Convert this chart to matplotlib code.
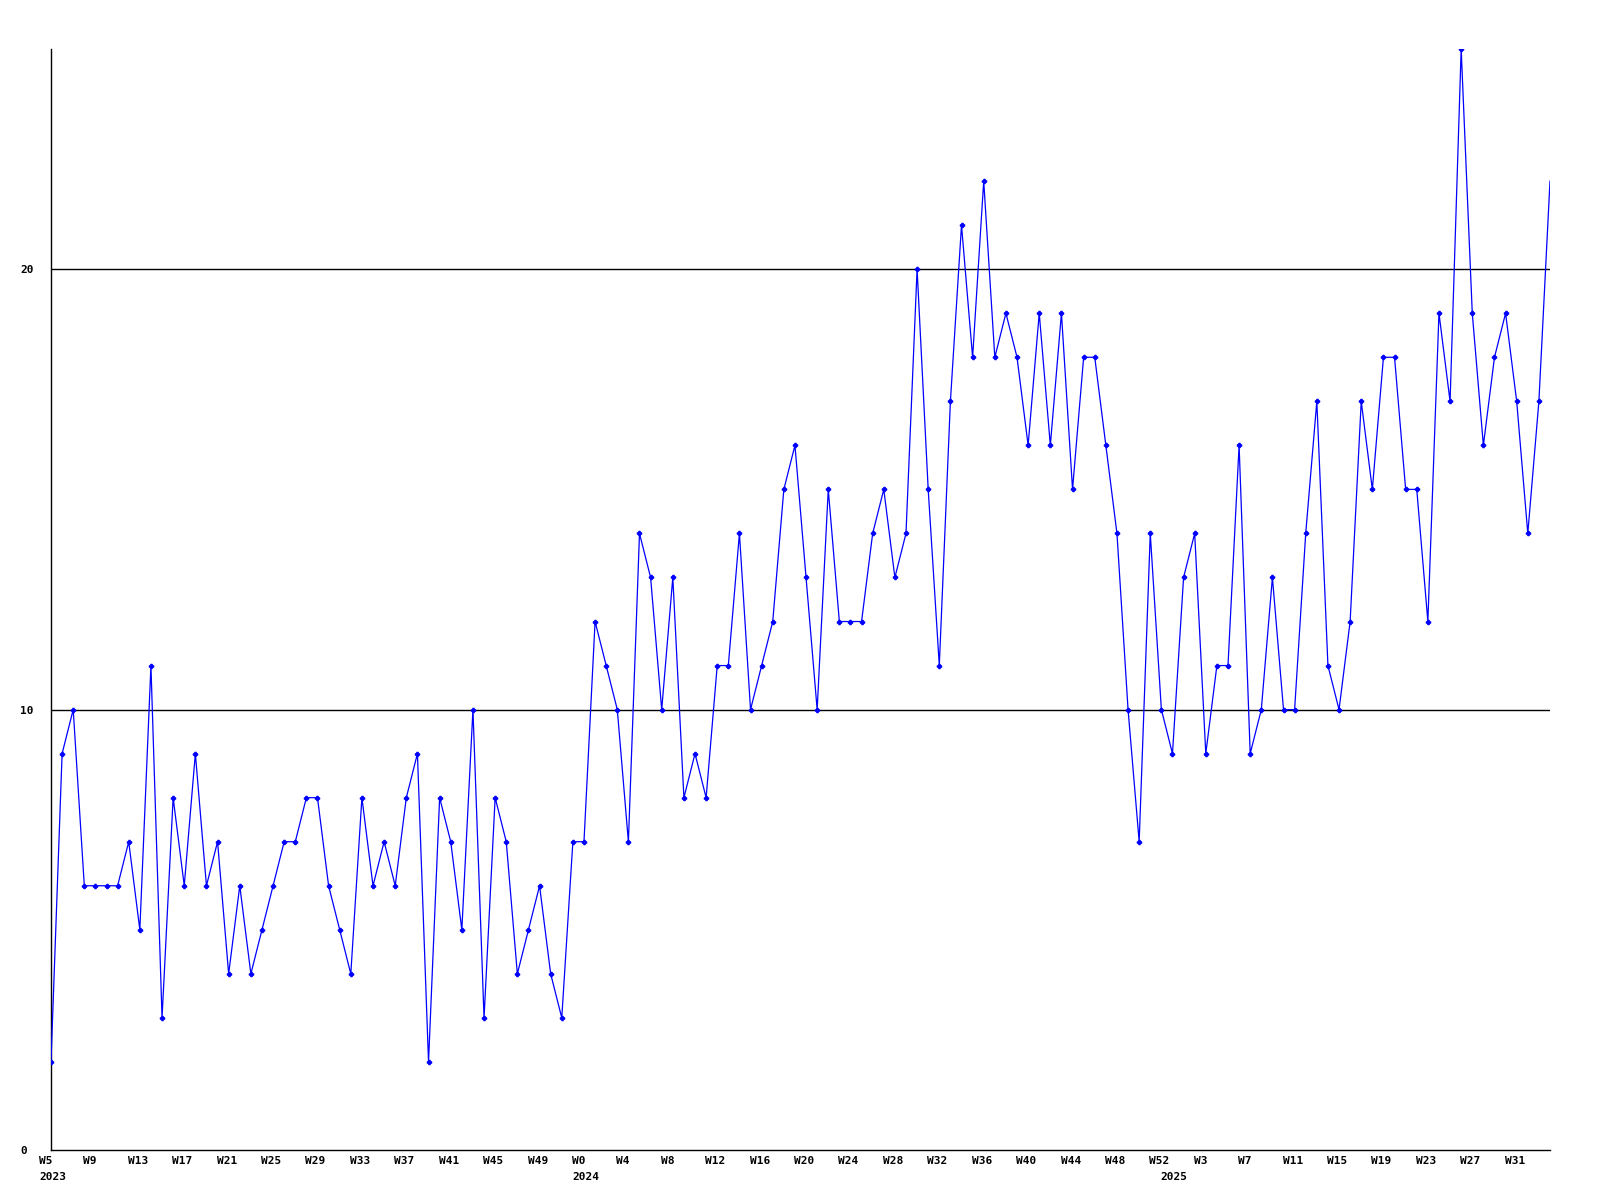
import matplotlib
matplotlib.use("Agg")
import matplotlib.pyplot as plt
import matplotlib.transforms as mtransforms

# Weekly values: 2023 W5..W52, 2024 W0..W52, 2025 W0..W34
values_2023 = [2, 9, 10, 6, 6, 6, 6, 7, 5, 11, 3, 8, 6, 9, 6, 7, 4, 6, 4, 5,
               6, 7, 7, 8, 8, 6, 5, 4, 8, 6, 7, 6, 8, 9, 2, 8, 7, 5, 10, 3,
               8, 7, 4, 5, 6, 4, 3, 7]
values_2024 = [7, 12, 11, 10, 7, 14, 13, 10, 13, 8, 9, 8, 11, 11, 14, 10, 11, 12,
               15, 16, 13, 10, 15, 12, 12, 12, 14, 15, 13, 14, 20, 15, 11, 17, 21,
               18, 22, 18, 19, 18, 16, 19, 16, 19, 15, 18, 18, 16, 14, 10, 7, 14, 10]
values_2025 = [9, 13, 14, 9, 11, 11, 16, 9, 10, 13, 10, 10, 14, 17, 11, 10, 12,
               17, 15, 18, 18, 15, 15, 12, 19, 17, 25, 19, 16, 18, 19, 17, 14, 17, 22]
weeks_2023 = list(range(5, 53))
weeks_2024 = list(range(0, 53))
weeks_2025 = list(range(0, 35))
years = ["2023", "2024", "2025"]
y_ticks = [0, 10, 20]

values = values_2023 + values_2024 + values_2025
week_labels = ["W%d" % w for w in weeks_2023 + weeks_2024 + weeks_2025]
x = list(range(len(values)))
year_starts = [0, len(values_2023), len(values_2023) + len(values_2024)]

fig = plt.figure(figsize=(16, 12), dpi=100)
ax = fig.add_axes([51 / 1600, 1 - 1150 / 1200, (1550 - 51) / 1600, (1150 - 49) / 1200])

for yv in y_ticks[1:]:
    ax.axhline(yv, color="black", linewidth=1.0, zorder=1)

ax.plot(x, values, color="#0000FF", linewidth=0.9, marker="P", markersize=3.0,
        markevery=list(range(len(values) - 1)), zorder=3)

ax.set_xlim(0, len(values) - 1)
ax.set_ylim(0, max(values))

for side in ["top", "right"]:
    ax.spines[side].set_visible(False)
for side in ["left", "bottom"]:
    ax.spines[side].set_linewidth(1.0)
    ax.spines[side].set_color("black")

font = dict(family="DejaVu Sans Mono", weight="bold", size=8)

ax.set_yticks(y_ticks)
ax.set_yticklabels([str(v) for v in y_ticks], **font)
ax.tick_params(axis="y", length=0, pad=22.3)
for lbl in ax.get_yticklabels():
    lbl.set_horizontalalignment("left")

ax.xaxis.remove_overlapping_locs = False
tick_idx = x[::4]
ax.set_xticks(tick_idx)
ax.set_xticklabels([week_labels[i] for i in tick_idx], **font)
ax.set_xticks(year_starts, minor=True)
ax.set_xticklabels(years, minor=True, **font)
ax.tick_params(axis="x", which="major", length=0, pad=4)
ax.tick_params(axis="x", which="minor", length=0, pad=16)

offset = mtransforms.ScaledTranslation(-12 / 100, 0, fig.dpi_scale_trans)
for lbl in ax.get_xticklabels() + ax.get_xticklabels(minor=True):
    lbl.set_horizontalalignment("left")
    lbl.set_transform(lbl.get_transform() + offset)

fig.savefig("out.png", dpi=100, facecolor="white")
